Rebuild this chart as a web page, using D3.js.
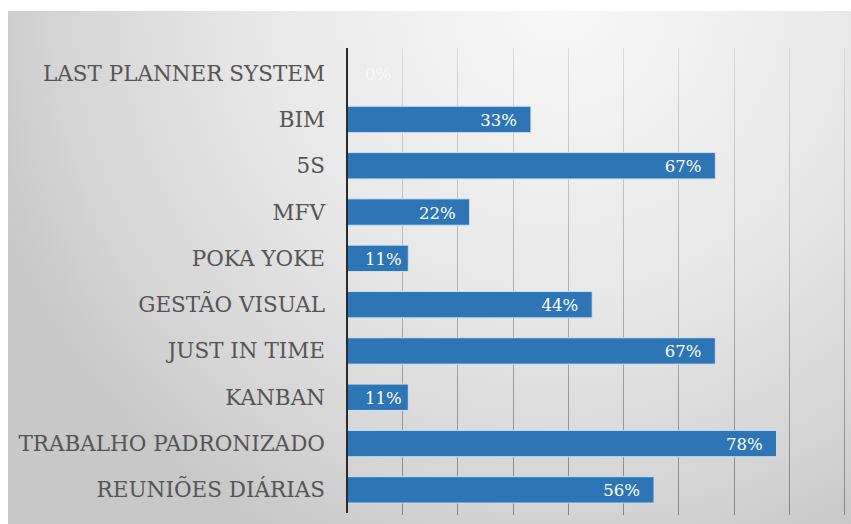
<!DOCTYPE html>
<html>
<head>
<meta charset="utf-8">
<script src="https://cdnjs.cloudflare.com/ajax/libs/d3/7.8.5/d3.min.js"></script>
<style>
  body { margin: 0; background: #fff; }
  svg { display: block; }
</style>
</head>
<body>
<div id="chart"></div>
<script>
const width = 851, height = 524;

// categories top to bottom, values in percent
const categories = ["LAST PLANNER SYSTEM", "BIM", "5S", "MFV", "POKA YOKE", "GESTÃO VISUAL",
  "JUST IN TIME", "KANBAN", "TRABALHO PADRONIZADO", "REUNIÕES DIÁRIAS"];
const values = [0, 33.3, 66.7, 22.2, 11.1, 44.4, 66.7, 11.1, 77.8, 55.6];
const valueLabels = ["0%", "33%", "67%", "22%", "11%", "44%", "67%", "11%", "78%", "56%"];
const gridTicks = [10, 20, 30, 40, 50, 60, 70, 80, 90];

const serif = "'DejaVu Serif', 'Liberation Serif', serif";

const svg = d3.select('#chart').append('svg')
  .attr('width', width)
  .attr('height', height);

const defs = svg.append('defs');

// background shading
const bg = defs.append('radialGradient')
  .attr('id', 'bg')
  .attr('gradientUnits', 'userSpaceOnUse')
  .attr('cx', 560).attr('cy', 0).attr('r', 600);
bg.append('stop').attr('offset', 0).attr('stop-color', '#f8f8f8');
bg.append('stop').attr('offset', 0.5).attr('stop-color', '#e8e8e8');
bg.append('stop').attr('offset', 0.85).attr('stop-color', '#d4d4d4');
bg.append('stop').attr('offset', 1).attr('stop-color', '#c8c8c8');

const gl = defs.append('linearGradient')
  .attr('id', 'grid')
  .attr('gradientUnits', 'userSpaceOnUse')
  .attr('x1', 0).attr('y1', 50).attr('x2', 0).attr('y2', 513);
gl.append('stop').attr('offset', 0).attr('stop-color', '#dadada');
gl.append('stop').attr('offset', 1).attr('stop-color', '#858585');

svg.append('rect')
  .attr('x', 8).attr('y', 11)
  .attr('width', width - 8).attr('height', height - 11)
  .attr('fill', 'url(#bg)');

const x = d3.scaleLinear()
  .domain([0, 90])
  .range([347, 844]);

const y = d3.scaleBand()
  .domain(categories)
  .range([50, 513])
  .paddingInner(0.43)
  .paddingOuter(0.215);

// vertical gridlines
svg.append('g')
  .selectAll('line')
  .data(gridTicks)
  .join('line')
  .attr('x1', d => Math.round(x(d)) + 0.5)
  .attr('x2', d => Math.round(x(d)) + 0.5)
  .attr('y1', 48)
  .attr('y2', 515)
  .attr('stroke', 'url(#grid)')
  .attr('stroke-width', 1);

// bars
svg.append('g')
  .selectAll('rect')
  .data(categories)
  .join('rect')
  .attr('x', x(0))
  .attr('y', d => y(d))
  .attr('width', (d, i) => x(values[i]) - x(0))
  .attr('height', y.bandwidth())
  .attr('fill', '#2e75b6')
  .attr('stroke', (d, i) => values[i] > 0 ? '#cfe2f3' : 'none')
  .attr('stroke-width', 1);

// axis line
svg.append('line')
  .attr('x1', x(0)).attr('x2', x(0))
  .attr('y1', 48).attr('y2', 513)
  .attr('stroke', '#2a2a2a')
  .attr('stroke-width', 2);

// category labels
svg.append('g')
  .selectAll('text')
  .data(categories)
  .join('text')
  .attr('x', 325)
  .attr('y', d => y(d) + y.bandwidth() / 2 + 7.5)
  .attr('text-anchor', 'end')
  .attr('font-family', serif)
  .attr('font-size', 21.5)
  .attr('fill', '#555')
  .text(d => d);

// value labels inside the bar ends
const vl = svg.append('g')
  .selectAll('text')
  .data(categories)
  .join('text')
  .attr('y', d => y(d) + y.bandwidth() / 2 + 6.5)
  .attr('text-anchor', 'end')
  .attr('font-family', serif)
  .attr('font-size', 16.5)
  .attr('fill', (d, i) => values[i] > 0 ? '#fff' : 'rgba(255,255,255,0.6)')
  .text((d, i) => valueLabels[i]);

vl.attr('x', function(d, i) {
  const w = this.getComputedTextLength();
  return Math.max(x(values[i]) - 14, x(0) + 18 + w);
});
</script>
</body>
</html>
